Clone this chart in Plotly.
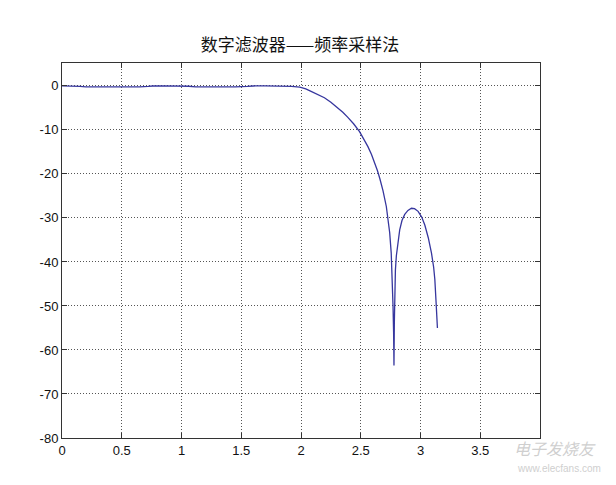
import plotly.graph_objects as go

# Frequency (rad) and magnitude (dB)
freq = [0.00, 0.10, 0.15, 0.20, 0.35, 0.50, 0.65, 0.72, 0.76, 0.85, 1.00, 1.06, 1.12,
        1.30, 1.45, 1.55, 1.60, 1.70, 1.85, 1.92, 1.99, 2.04, 2.08, 2.14, 2.196, 2.25,
        2.31, 2.35, 2.39, 2.44, 2.49, 2.53, 2.56, 2.59, 2.616, 2.64, 2.66, 2.686, 2.714,
        2.73, 2.742, 2.755, 2.762, 2.770, 2.775, 2.778, 2.781, 2.784, 2.790, 2.798,
        2.812, 2.826, 2.845, 2.868, 2.895, 2.924, 2.950, 2.980, 3.010, 3.036, 3.065,
        3.092, 3.110, 3.120, 3.130, 3.135, 3.1416]
mag_db = [0.00, 0.00, -0.10, -0.22, -0.25, -0.25, -0.22, -0.12, -0.02, 0.00, 0.00,
          -0.08, -0.22, -0.25, -0.22, -0.12, -0.02, 0.00, 0.00, -0.10, -0.30, -0.70,
          -1.20, -1.90, -2.70, -3.70, -5.00, -6.00, -7.10, -8.60, -10.40, -12.20,
          -13.80, -15.60, -17.40, -19.30, -21.10, -23.80, -27.40, -30.20, -33.30,
          -38.00, -42.00, -50.00, -56.00, -63.50, -54.00, -46.40, -41.80, -38.60,
          -35.00, -32.70, -30.60, -29.20, -28.30, -27.80, -27.90, -28.50, -29.80,
          -31.60, -34.50, -38.00, -41.20, -44.00, -49.00, -52.00, -55.00]

x_ticks = [0, 0.5, 1, 1.5, 2, 2.5, 3, 3.5, 4]
x_tick_text = ["0", "0.5", "1", "1.5", "2", "2.5", "3", "3.5", ""]
y_ticks = [0, -10, -20, -30, -40, -50, -60, -70, -80]
y_tick_text = ["0", "-10", "-20", "-30", "-40", "-50", "-60", "-70", "-80"]
title_text = "数字滤波器——频率采样法"

fig = go.Figure()
fig.add_trace(go.Scatter(x=freq, y=mag_db, mode="lines",
                         line=dict(color="#36369e", width=1.3), showlegend=False))

axis_common = dict(
    showline=True, linecolor="#333", linewidth=1, mirror="allticks",
    ticks="inside", ticklen=5, tickcolor="#333",
    showgrid=True, gridcolor="#555", griddash="1px,2px", gridwidth=1,
    zeroline=False,
    tickfont=dict(family="Liberation Sans, Arial, sans-serif", size=13, color="#111"),
)

fig.update_xaxes(range=[0, 4], tickvals=x_ticks, ticktext=x_tick_text, **axis_common)
fig.update_yaxes(range=[-80, 5.2], tickvals=y_ticks, ticktext=y_tick_text, **axis_common)

fig.update_layout(
    width=616, height=485,
    margin=dict(l=54, r=84, t=55, b=55),
    paper_bgcolor="white", plot_bgcolor="white",
    title=dict(text=title_text, x=0.474, xanchor="center", y=0.924, yanchor="middle",
               font=dict(family="Noto Sans CJK SC", size=17, color="#111")),
)

fig.add_annotation(text="<i>电子发烧友</i>", xref="paper", yref="paper", x=1.031, y=-0.027,
                   xanchor="center", yanchor="middle", showarrow=False,
                   font=dict(family="Noto Sans CJK SC", size=16, color="#cfcfcf"))
fig.add_annotation(text="www.elecfans.com", xref="paper", yref="paper", x=1.04, y=-0.08,
                   xanchor="center", yanchor="middle", showarrow=False,
                   font=dict(family="Liberation Sans", size=10, color="#cfcfcf"))

fig.write_html("out.html")
